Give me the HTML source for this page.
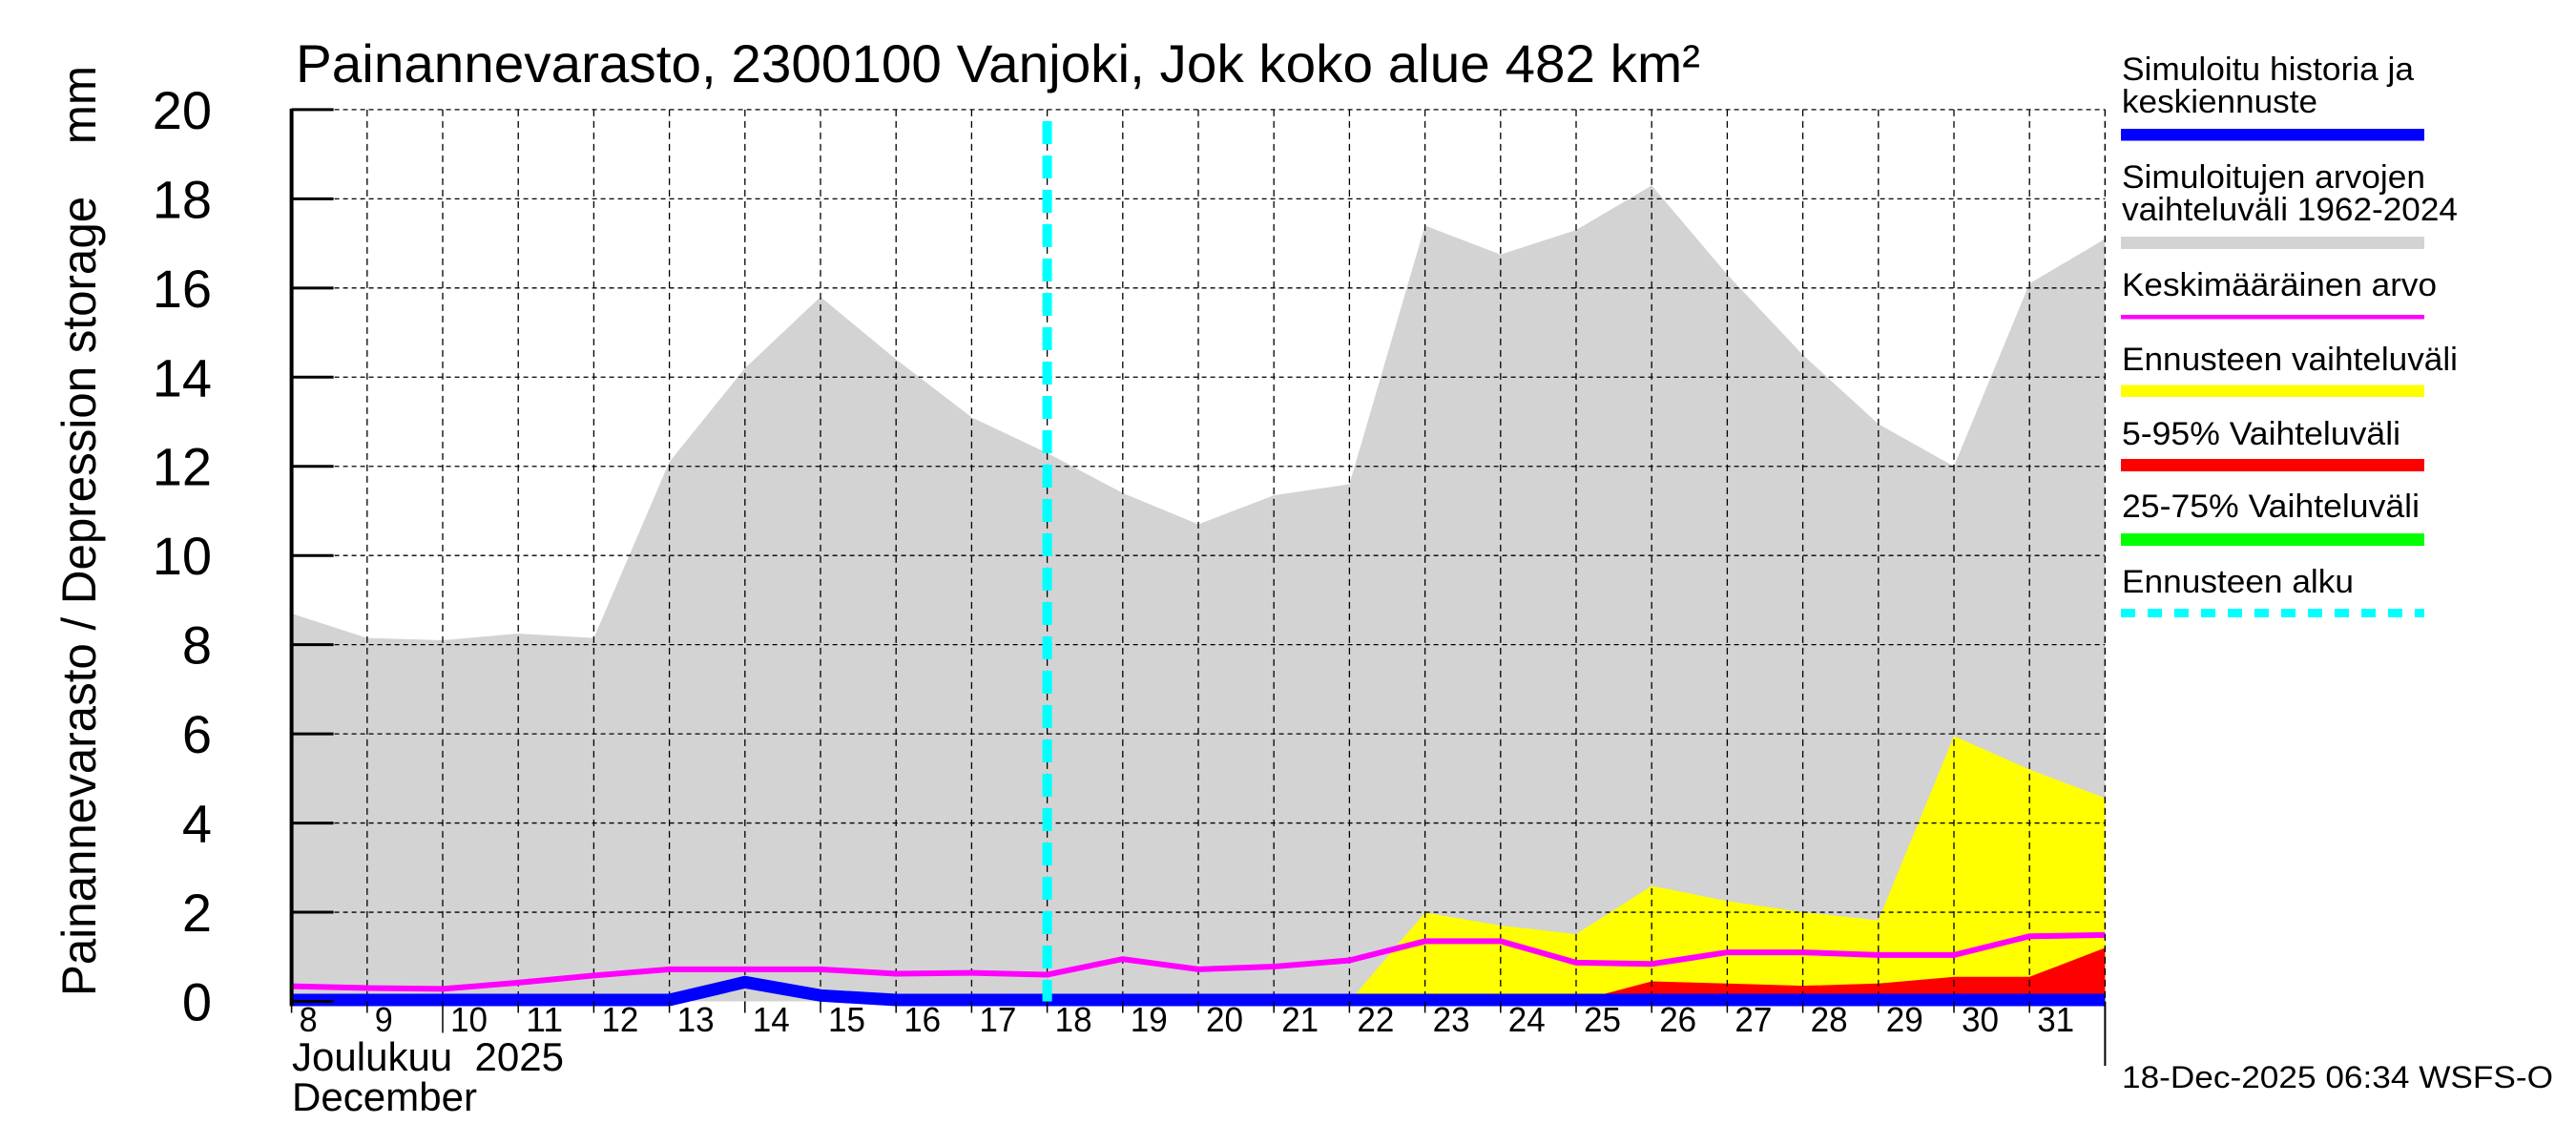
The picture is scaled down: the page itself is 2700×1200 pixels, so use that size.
<!DOCTYPE html>
<html><head><meta charset="utf-8"><style>
html,body{margin:0;padding:0;background:#fff;}
svg{display:block;font-family:"Liberation Sans",sans-serif;}
</style></head><body>
<svg id="chart" width="2700" height="1200" viewBox="0 0 2700 1200" xmlns="http://www.w3.org/2000/svg">
<rect x="0" y="0" width="2700" height="1200" fill="#fff"/>
<g id="fills"></g>
<g id="grid"></g>
<g id="lines"></g>
<g id="axes"></g>
<text x="310" y="86" font-size="56" textLength="1472" lengthAdjust="spacingAndGlyphs">Painannevarasto, 2300100 Vanjoki, Jok koko alue 482 km²</text>
<text transform="translate(100,1044) rotate(-90)" font-size="50" textLength="975" lengthAdjust="spacingAndGlyphs" xml:space="preserve">Painannevarasto / Depression storage    mm</text>
<text x="306" y="1122" font-size="42" textLength="285" lengthAdjust="spacingAndGlyphs" xml:space="preserve">Joulukuu  2025</text>
<text x="306" y="1164" font-size="42" textLength="194" lengthAdjust="spacingAndGlyphs">December</text>
<text x="2224" y="1140" font-size="32" textLength="452" lengthAdjust="spacingAndGlyphs">18-Dec-2025 06:34 WSFS-O</text>
<g font-size="34">
 <g>
  <text x="2224" y="84" textLength="306" lengthAdjust="spacingAndGlyphs">Simuloitu historia ja</text>
  <text x="2224" y="118" textLength="205" lengthAdjust="spacingAndGlyphs">keskiennuste</text>
  <rect x="2223" y="135" width="318" height="12.5" fill="#0000ff"/>
 </g>
 <g>
  <text x="2224" y="197" textLength="318" lengthAdjust="spacingAndGlyphs">Simuloitujen arvojen</text>
  <text x="2224" y="231" textLength="352" lengthAdjust="spacingAndGlyphs">vaihteluväli 1962-2024</text>
  <rect x="2223" y="248" width="318" height="13" fill="#d3d3d3"/>
 </g>
 <g>
  <text x="2224" y="310" textLength="330" lengthAdjust="spacingAndGlyphs">Keskimääräinen arvo</text>
  <rect x="2223" y="330" width="318" height="4.5" fill="#ff00ff"/>
 </g>
 <g>
  <text x="2224" y="388" textLength="352" lengthAdjust="spacingAndGlyphs">Ennusteen vaihteluväli</text>
  <rect x="2223" y="403.5" width="318" height="12.5" fill="#ffff00"/>
 </g>
 <g>
  <text x="2224" y="466" textLength="292" lengthAdjust="spacingAndGlyphs">5-95% Vaihteluväli</text>
  <rect x="2223" y="481" width="318" height="13" fill="#ff0000"/>
 </g>
 <g>
  <text x="2224" y="542" textLength="312" lengthAdjust="spacingAndGlyphs">25-75% Vaihteluväli</text>
  <rect x="2223" y="559" width="318" height="13" fill="#00ff00"/>
 </g>
 <g>
  <text x="2224" y="621" textLength="243" lengthAdjust="spacingAndGlyphs">Ennusteen alku</text>
  <line x1="2223" y1="642.5" x2="2541" y2="642.5" stroke="#00ffff" stroke-width="9" stroke-dasharray="15,13"/>
 </g>
</g>
</svg>
<script>
// Data (days Dec 8 .. Jan 1)
const dayLabels = ["8","9","10","11","12","13","14","15","16","17","18","19","20","21","22","23","24","25","26","27","28","29","30","31"];
const yTicks = [0,2,4,6,8,10,12,14,16,18,20];
const simRangeMax = [8.7,8.15,8.1,8.25,8.15,12.1,14.2,15.8,14.4,13.1,12.3,11.4,10.7,11.35,11.6,17.4,16.75,17.3,18.3,16.3,14.5,12.95,12.0,16.1,17.1];
const meanValues = [0.34,0.3,0.28,0.42,0.58,0.72,0.72,0.72,0.62,0.64,0.6,0.95,0.72,0.78,0.92,1.35,1.35,0.87,0.84,1.1,1.1,1.04,1.04,1.46,1.49];
const simHistory = [0,0,0,0,0,0,0.4,0.1,0,0,0,0,0,0,0,0,0,0,0,0,0,0,0,0,0];
const forecastStartIndex = 14;
const forecastMax = [0,1.99,1.7,1.51,2.59,2.25,2.0,1.82,5.95,5.2,4.56];
const p95Values = [0,0.05,0,0,0.45,0.4,0.35,0.4,0.55,0.55,1.2];
const p75Values = [0,0,0,0,0,0,0,0,0,0,0];
const forecastStartDay = 10;

const NS = "http://www.w3.org/2000/svg";
const X0 = 305.6, DX = 79.2, Y0 = 1049.5, DY = 46.73;
function xs(i){ return X0 + i*DX; }
function ys(v){ return Y0 - v*DY; }
function mk(tag, attrs, parent){
  const e = document.createElementNS(NS, tag);
  for (const k in attrs) e.setAttribute(k, attrs[k]);
  parent.appendChild(e); return e;
}
const fills = document.getElementById('fills');
const grid = document.getElementById('grid');
const lines = document.getElementById('lines');
const axes = document.getElementById('axes');

function area(vals, start, color, name){
  let pts = [];
  vals.forEach((v,i)=>pts.push(xs(start+i)+','+ys(v)));
  pts.push(xs(start+vals.length-1)+','+Y0);
  pts.push(xs(start)+','+Y0);
  const p = mk('polygon', {points: pts.join(' '), fill: color}, fills);
  
  
}
area(simRangeMax, 0, '#d3d3d3', 'simulated-range-area');
area(forecastMax, forecastStartIndex, '#ffff00', 'forecast-range-area');
area(p95Values, forecastStartIndex, '#ff0000', 'range-5-95-area');
area(p75Values, forecastStartIndex, '#00ff00', 'range-25-75-area');

// grid
yTicks.forEach(t=>{
  if (t===0) return;
  const l = mk('line', {x1:X0, x2:xs(24), y1:ys(t), y2:ys(t), stroke:'#000', 'stroke-width':1.3, 'stroke-dasharray':'5,4'}, grid);
  
  
});
for (let i=1;i<=24;i++){
  const l = mk('line', {x1:xs(i), x2:xs(i), y1:ys(20), y2:Y0, stroke:'#000', 'stroke-width':1.3, 'stroke-dasharray':'7,5'}, grid);
  
  
}

function polyline(vals, start, color, width, name, off){
  const pts = vals.map((v,i)=>xs(start+i)+','+(ys(v)+off)).join(' ');
  const p = mk('polyline', {points: pts, fill:'none', stroke:color, 'stroke-width':width, 'stroke-linejoin':'miter'}, lines);
  
  
}
polyline(meanValues, 0, '#ff00ff', 6, 'mean-line', 0);
polyline(simHistory, 0, '#0000ff', 13, 'simulated-history-line', -1.5);

const fc = mk('line', {x1:xs(forecastStartDay), x2:xs(forecastStartDay), y1:127, y2:Y0, stroke:'#00ffff', 'stroke-width':10, 'stroke-dasharray':'24,12'}, lines);



// axes
const ya = mk('line', {x1:X0, x2:X0, y1:ys(20)-1, y2:Y0+5, stroke:'#000', 'stroke-width':4}, axes);


yTicks.forEach(t=>{
  const tk = mk('line', {x1:X0, x2:X0+44, y1:ys(t), y2:ys(t), stroke:'#000', 'stroke-width':3}, axes);
  
  
  const tx = mk('text', {x:222, y:ys(t)+20, 'font-size':56, 'text-anchor':'end'}, axes);
  tx.textContent = String(t);
  
  
});
dayLabels.forEach((d,i)=>{
  const tk = mk('line', {x1:xs(i), x2:xs(i), y1:Y0, y2:Y0+(d==="10"?33:12), stroke:'#000', 'stroke-width':1.5}, axes);
  
  
  const tx = mk('text', {x:xs(i)+8, y:1081, 'font-size':36, textLength:(d.length===1?19:39), lengthAdjust:'spacingAndGlyphs'}, axes);
  tx.textContent = d;
  
  
});
const re = mk('line', {x1:xs(24), x2:xs(24), y1:Y0, y2:1117, stroke:'#000', 'stroke-width':2}, axes);


const rb = mk('line', {x1:xs(24), x2:xs(24), y1:ys(20), y2:Y0, stroke:'#000', 'stroke-width':1.3, 'stroke-dasharray':'7,5'}, axes);


</script>
</body></html>
